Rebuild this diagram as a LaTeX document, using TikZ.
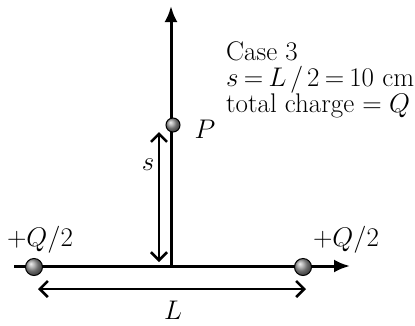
\documentclass[tikz,border=0pt]{standalone}
\usepackage{graphicx}
\usetikzlibrary{arrows.meta}
\newcommand{\bigtxt}[1]{\scalebox{1.3}{\huge #1}}
\newcommand{\eqs}{\mkern3.5mu{=}\mkern3.5mu}
\begin{document}
\begin{tikzpicture}[x=1pt,y=-1pt,
  axis/.style={line width=3pt,-{Latex[length=16pt,width=13pt]}},
  dim/.style={line width=2.2pt,{Straight Barb[length=8pt,width=16pt,line width=2.6pt]}-{Straight Barb[length=8pt,width=16pt,line width=2.6pt]}},
  charge/.style={circle,draw=black,line width=1pt,inner sep=0pt,minimum size=#1,ball color=gray!80},
  lbl/.style={inner sep=0pt}]
\useasboundingbox (0,0) rectangle (415,325);
\coordinate (O) at (171,266);
\coordinate (Xs) at (14,266);
\coordinate (Xe) at (350,266);
\coordinate (Ye) at (171,6);
\draw[axis] (Xs) -- (Xe);
\draw[axis] (O) -- (Ye);
\node[charge=17pt] (q1) at (34,267) {};
\node[charge=17pt] (q2) at (303,267) {};
\node[charge=14pt] (P) at (173,125) {};
\coordinate (sa) at (159,132);
\coordinate (sb) at (159,262);
\draw[dim] (sa) -- (sb);
\coordinate (La) at (38,289);
\coordinate (Lb) at (306,289);
\draw[dim] (La) -- (Lb);
\node[lbl] (Llab) at (173,310) {\bigtxt{$L$}};
\node[lbl] (slab) at (148,165) {\bigtxt{$s$}};
\node[lbl] (Plab) at (205,129) {\bigtxt{$P$}};
\node[lbl] (q1lab) at (40,240) {\bigtxt{$+Q/2$}};
\node[lbl] (q2lab) at (346,240) {\bigtxt{$+Q/2$}};
\node[lbl,anchor=base west] (txt1) at (226,60) {\bigtxt{Case 3}};
\node[lbl,anchor=base west] (txt2) at (226,86) {\bigtxt{$s\eqs L\mkern2.5mu/\mkern2.5mu2\eqs 10$ cm}};
\node[lbl,anchor=base west] (txt3) at (226,112) {\bigtxt{total charge $=Q$}};
\end{tikzpicture}
\end{document}
